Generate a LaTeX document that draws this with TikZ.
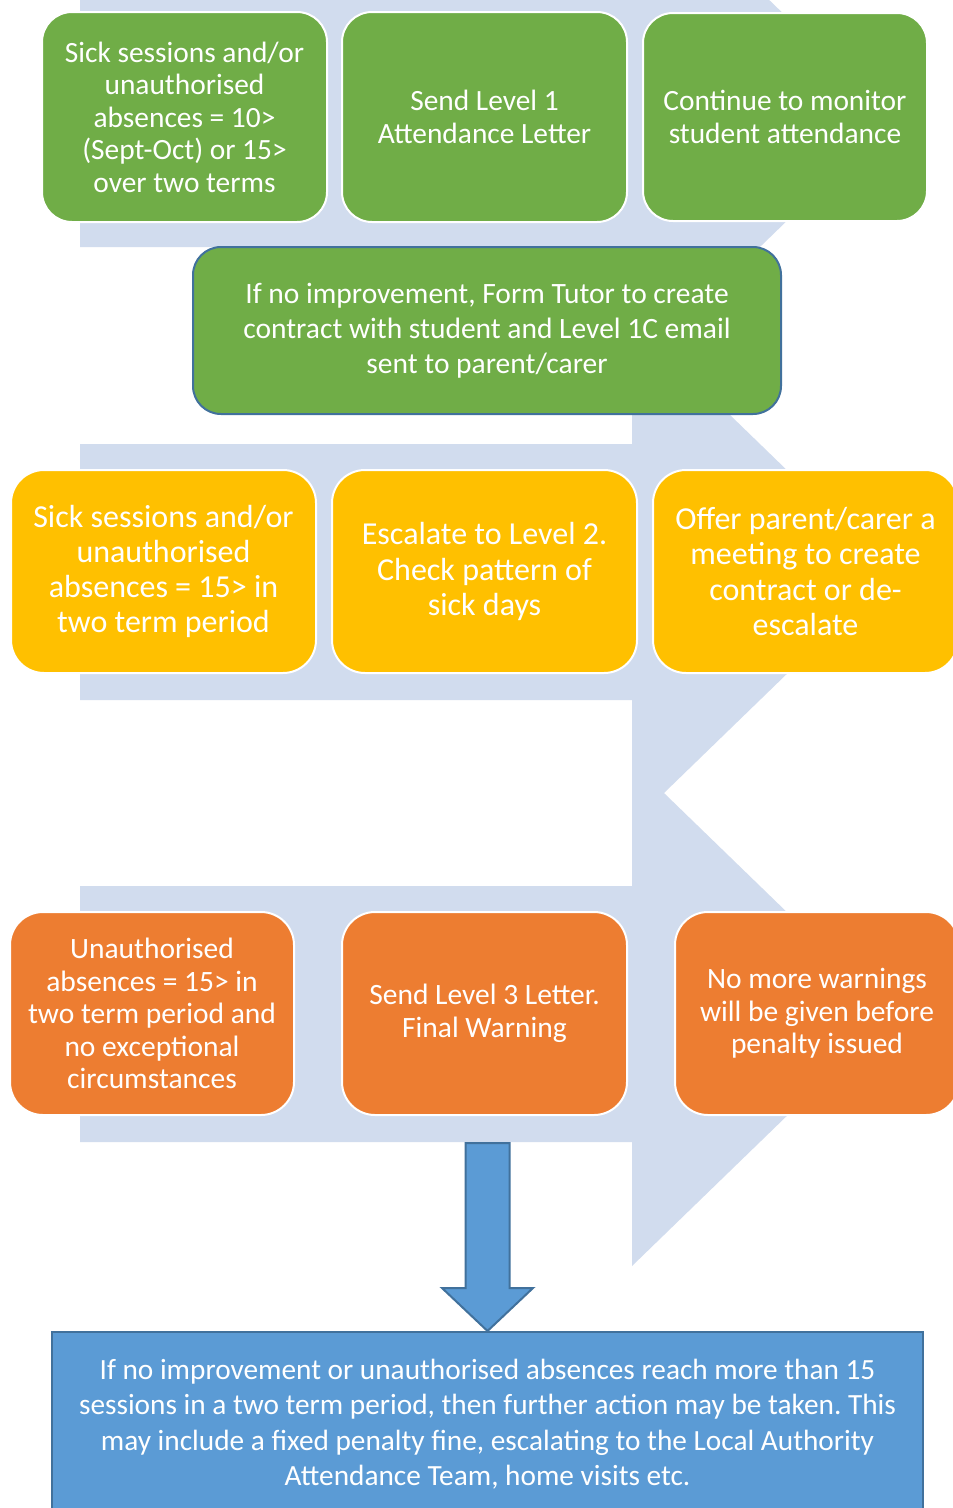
\documentclass[tikz,border=0pt]{standalone}
\usepackage{fontspec}
\setmainfont{Carlito}
\usetikzlibrary{calc}
\frenchspacing
\definecolor{bgarrow}{HTML}{D1DCEE}
\definecolor{cgreen}{HTML}{70AD47}
\definecolor{cyellow}{HTML}{FFC000}
\definecolor{corange}{HTML}{ED7D31}
\definecolor{cblue}{HTML}{5B9BD5}
\definecolor{cblueline}{HTML}{41719C}
\newcommand\bgrow[1]{\fill[bgarrow] (80,#1-128) -- (632,#1-128) -- (632,#1-252) -- (892,#1) -- (632,#1+252) -- (632,#1+128) -- (80,#1+128) -- cycle;}
\begin{document}
\begin{tikzpicture}[x=1pt,y=-1pt,
  card/.style={rectangle, rounded corners=30pt, draw=white, line width=2pt, text=white, align=center, inner sep=0pt},
  greencard/.style={card, fill=cgreen, minimum width=285pt, minimum height=210pt, font=\fontsize{29.4}{32.5}\selectfont},
  yellowcard/.style={card, fill=cyellow, rounded corners=33pt, minimum width=305pt, minimum height=203pt, font=\fontsize{32}{35.2}\selectfont},
  orangecard/.style={card, fill=corange, rounded corners=33pt, minimum width=284pt, minimum height=203pt, font=\fontsize{29.5}{32.5}\selectfont},
  bluebox/.style={rectangle, fill=cblue, draw=cblueline, line width=2pt, text=white, align=center, inner sep=0pt},
  blockarrow/.style={fill=cblue, draw=cblueline, line width=2pt, line join=miter}
]
\useasboundingbox (0,0) rectangle (953,1508);
\clip (0,0) rectangle (953,1508);
\fill[white] (0,0) rectangle (953,1508);
% background arrows
\bgrow{119}
\bgrow{572}
\bgrow{1014}
% row 1
\node[greencard] (g1) at (184.5,117) {Sick sessions and/or\\unauthorised\\absences = 10>\\(Sept-Oct) or 15>\\over two terms};
\node[greencard] (g2) at (484.5,117) {Send Level 1\\Attendance Letter};
\node[greencard, minimum width=284pt, minimum height=208pt] (g3) at (785,117) {Continue to monitor\\student attendance};
% row 1.5
\node[card, fill=cgreen, draw=cblueline, rounded corners=28pt, minimum width=588pt, minimum height=167pt, font=\fontsize{29.5}{35}\selectfont] (g4) at (487,330.5) {If no improvement, Form Tutor to create\\contract with student and Level 1C email\\sent to parent/carer};
% row 2
\node[yellowcard] (y1) at (163.5,571.5) {Sick sessions and/or\\unauthorised\\absences = 15> in\\two term period};
\node[yellowcard] (y2) at (484.5,571.5) {Escalate to Level 2.\\Check pattern of\\sick days};
\node[yellowcard] (y3) at (805.5,571.5) {Offer parent/carer a\\meeting to create\\contract or de-\\escalate};
% row 3
\node[orangecard] (o1) at (152,1013.5) {Unauthorised\\absences = 15> in\\two term period and\\no exceptional\\circumstances};
\node[orangecard, minimum width=285pt] (o2) at (484.5,1013.5) {Send Level 3 Letter.\\Final Warning};
\node[orangecard] (o3) at (817,1013.5) {No more warnings\\will be given before\\penalty issued};
% bottom box
\node[bluebox, minimum width=871pt, minimum height=184pt, font=\fontsize{29.3}{35.5}\selectfont] (fin) at (487.5,1424) {If no improvement or unauthorised absences reach more than 15\\sessions in a two term period, then further action may be taken. This\\may include a fixed penalty fine, escalating to the Local Authority\\Attendance Team, home visits etc.};
% block arrow
\coordinate (arrtop) at (487.5,1143);
\draw[blockarrow] ($(arrtop)+(-22,0)$) -- ($(arrtop)+(22,0)$) -- ($(arrtop)+(22,145)$) -- ($(arrtop)+(45.5,145)$) -- (fin.north) -- ($(arrtop)+(-45.5,145)$) -- ($(arrtop)+(-22,145)$) -- cycle;
\end{tikzpicture}
\end{document}
